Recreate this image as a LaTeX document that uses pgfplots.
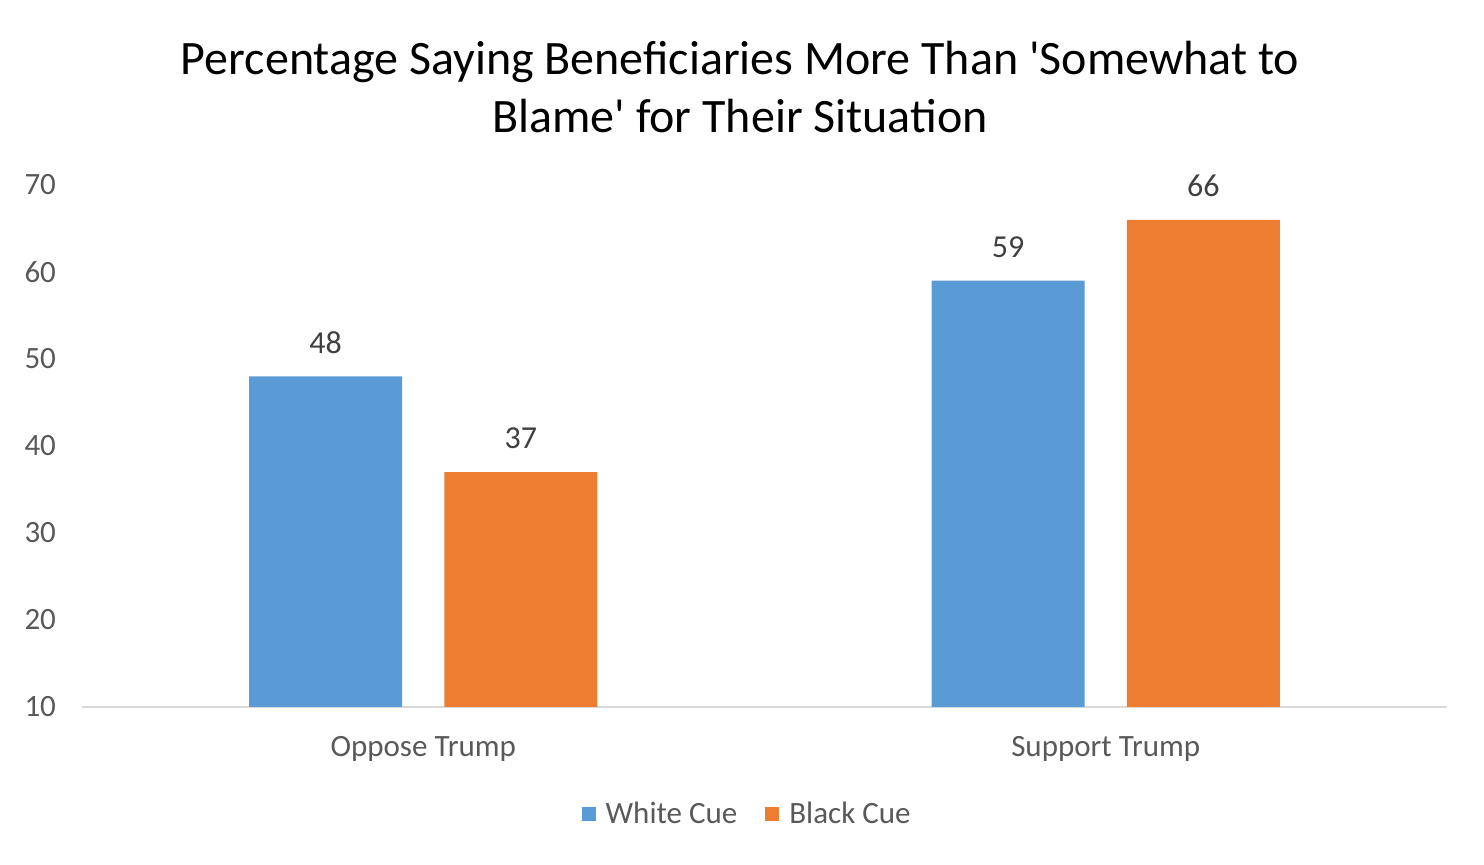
\documentclass[border=0pt]{standalone}
\usepackage{fontspec}
\setmainfont{Carlito}
\usepackage{pgfplots}
\pgfplotsset{compat=1.18}
\definecolor{xlblue}{HTML}{5B9BD5}
\definecolor{xlorange}{HTML}{ED7D31}
\definecolor{txtgrey}{HTML}{595959}
\definecolor{lblgrey}{HTML}{404040}
\definecolor{axgrey}{HTML}{D9D9D9}
\begin{document}
\begin{tikzpicture}
\path[use as bounding box] (0,0) rectangle (742pt,432.5pt);
\node[font=\fontsize{24pt}{29pt}\selectfont, align=center, text=black]
  at (370pt,389pt) {Percentage Saying Beneficiaries More Than \textquotesingle Somewhat to\\Blame\textquotesingle{} for Their Situation};
\begin{axis}[
  at={(41pt,79pt)}, anchor=south west,
  scale only axis, width=682.5pt, height=261pt,
  xmin=-0.5, xmax=1.5, ymin=10, ymax=70,
  ytick={10,20,...,70},
  xtick={0,1}, xticklabels={Oppose Trump,Support Trump},
  axis y line*=left,
  axis x line*=bottom,
  y axis line style={draw=none},
  x axis line style={draw=axgrey, line width=0.6pt, -},
  major tick length=0pt,
  tick label style={font=\fontsize{15.5pt}{18pt}\selectfont, text=txtgrey},
  /pgf/number format/assume math mode=true,
  yticklabel style={xshift=-9.5pt},
  xticklabel style={yshift=-11pt},
  ybar, bar width=0.224,
  nodes near coords,
  every node near coord/.append style={font=\fontsize{16pt}{18pt}\selectfont, text=lblgrey, anchor=south, yshift=8pt},
  legend columns=2,
  legend style={at={(0.488,-0.205)}, anchor=center, draw=none, fill=none,
    font=\fontsize{15.5pt}{18pt}\selectfont, text=txtgrey,
    /tikz/every even column/.append style={column sep=12pt}},
  legend image code/.code={\fill[#1] (0pt,-3.5pt) rectangle (7pt,3.5pt); \path (10pt,0pt);},
]
\addplot[fill=xlblue, draw=none, bar shift=-0.143] coordinates {(0,48) (1,59)};
\addplot[fill=xlorange, draw=none, bar shift=0.143] coordinates {(0,37) (1,66)};
\legend{White Cue, Black Cue}
\end{axis}
\end{tikzpicture}
\end{document}
